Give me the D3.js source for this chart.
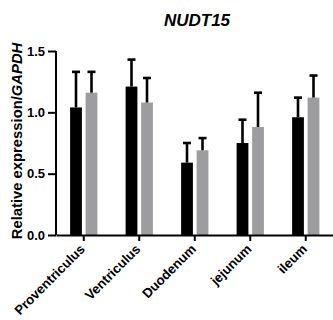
<!DOCTYPE html>
<html>
<head>
<meta charset="utf-8">
<script src="https://cdn.jsdelivr.net/npm/d3@7"></script>
<style>
  html, body { margin: 0; padding: 0; background: #fff; }
  svg { display: block; font-family: "Liberation Sans", Arial, Helvetica, sans-serif; }
</style>
</head>
<body>
<svg id="chart" width="333" height="320"></svg>
<script>
// Tissues along the gut
const categories = ["Proventriculus", "Ventriculus", "Duodenum", "jejunum", "ileum"];
// Two groups: mean relative expression and SD (upward error bars only)
const seriesNames = ["group1", "group2"];
const group1Mean = [1.04, 1.21, 0.59, 0.75, 0.96];
const group1Err  = [0.29, 0.22, 0.16, 0.19, 0.16];
const group2Mean = [1.16, 1.08, 0.69, 0.88, 1.12];
const group2Err  = [0.17, 0.20, 0.10, 0.28, 0.18];
const seriesColors = ["#000000", "#9d9d9f"];
const yTicks = [0.0, 0.5, 1.0, 1.5];

const svg = d3.select("#chart");
const margin = { left: 56, top: 51 };

const x = d3.scaleBand().domain(categories).range([margin.left, 333.5]).padding(0);
const xInner = d3.scaleBand().domain(seriesNames).range([0, x.bandwidth()])
  .paddingInner(0.24).paddingOuter(0.91);
const y = d3.scaleLinear().domain([0, 1.5]).range([235, 51]);

const rows = categories.map((c, i) => ({
  cat: c,
  vals: [
    { s: seriesNames[0], mean: group1Mean[i], err: group1Err[i], color: seriesColors[0] },
    { s: seriesNames[1], mean: group2Mean[i], err: group2Err[i], color: seriesColors[1] }
  ]
}));

// Title
svg.append("text")
  .attr("x", 197).attr("y", 26)
  .attr("text-anchor", "middle")
  .attr("font-size", 17).attr("font-weight", "bold").attr("font-style", "italic")
  .text("NUDT15");

// Y axis label
const yl = svg.append("text")
  .attr("transform", "translate(22,141) rotate(-90)")
  .attr("text-anchor", "middle")
  .attr("font-size", 14.8).attr("font-weight", "bold");
yl.append("tspan").text("Relative expression/");
yl.append("tspan").attr("font-style", "italic").text("GAPDH");

// Bars and error bars
const groups = svg.append("g").selectAll("g").data(rows).join("g")
  .attr("transform", d => `translate(${x(d.cat)},0)`);

groups.selectAll("rect").data(d => d.vals).join("rect")
  .attr("x", d => xInner(d.s))
  .attr("width", xInner.bandwidth())
  .attr("y", d => y(d.mean))
  .attr("height", d => y(0) - y(d.mean))
  .attr("fill", d => d.color);

const eb = groups.selectAll("g.err").data(d => d.vals).join("g").attr("class", "err");
eb.append("line")
  .attr("x1", d => xInner(d.s) + xInner.bandwidth() / 2)
  .attr("x2", d => xInner(d.s) + xInner.bandwidth() / 2)
  .attr("y1", d => y(d.mean))
  .attr("y2", d => y(d.mean + d.err))
  .attr("stroke", "#000").attr("stroke-width", 2.6);
eb.append("line")
  .attr("x1", d => xInner(d.s) + xInner.bandwidth() / 2 - 4)
  .attr("x2", d => xInner(d.s) + xInner.bandwidth() / 2 + 4)
  .attr("y1", d => y(d.mean + d.err))
  .attr("y2", d => y(d.mean + d.err))
  .attr("stroke", "#000").attr("stroke-width", 2.6);

// Y axis
const yAxis = svg.append("g")
  .attr("transform", `translate(${margin.left},0)`)
  .call(d3.axisLeft(y).tickValues(yTicks).tickFormat(d3.format(".1f")).tickSize(8).tickPadding(3));
yAxis.select(".domain").attr("stroke-width", 2).attr("d", `M0,${y(1.5)}V${y(0)}`);
yAxis.selectAll(".tick line").attr("stroke-width", 2);
yAxis.selectAll(".tick text")
  .attr("font-size", 13).attr("font-weight", "bold").attr("fill", "#000")
  .attr("font-family", "'Liberation Sans', Arial, sans-serif");

// X axis with slanted category labels
const xAxis = svg.append("g")
  .attr("transform", `translate(0,${y(0)})`)
  .call(d3.axisBottom(x).tickSize(6).tickSizeOuter(0));
xAxis.select(".domain").attr("stroke-width", 2);
xAxis.selectAll(".tick line").attr("stroke-width", 2);
xAxis.selectAll(".tick text")
  .attr("font-size", 13.3).attr("font-weight", "bold").attr("fill", "#000")
  .attr("font-family", "'Liberation Sans', Arial, sans-serif")
  .attr("text-anchor", "end")
  .attr("x", 0).attr("y", 0).attr("dy", 0)
  .attr("transform", "translate(2,15) rotate(-45)");
</script>
</body>
</html>
